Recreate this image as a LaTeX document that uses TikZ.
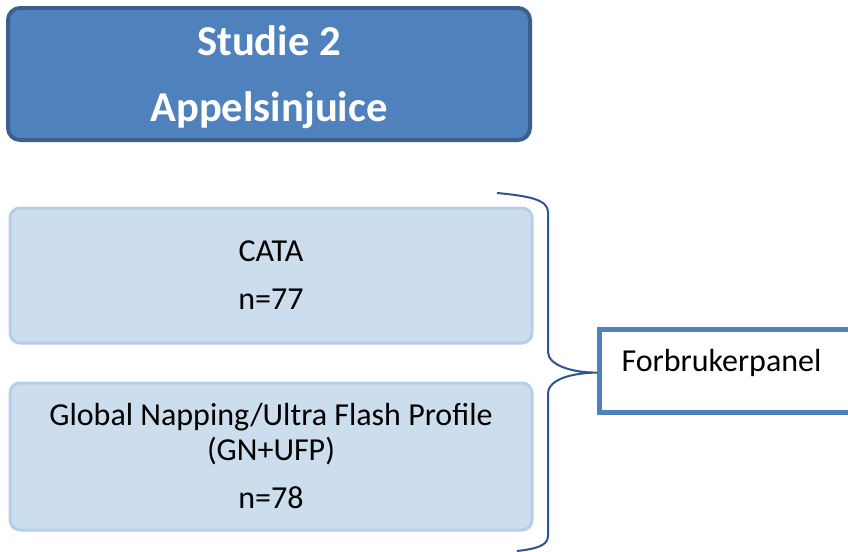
\documentclass[tikz,border=0pt]{standalone}
\usepackage{fontspec}
\setmainfont{Carlito}
\usepackage{xcolor}
\usetikzlibrary{calc}
\usetikzlibrary{positioning}

\definecolor{titlefill}{HTML}{4F81BD}
\definecolor{titleline}{HTML}{3B5F8E}
\definecolor{boxfill}{HTML}{CCDDED}
\definecolor{boxline}{HTML}{B8CDEA}
\definecolor{braceline}{HTML}{2D5592}

\begin{document}
\begin{tikzpicture}
    [x=0.5pt, y=-0.5pt,
     titlebox/.style={rectangle, rounded corners=6pt, draw=titleline, line width=2pt, fill=titlefill, text=white, font=\bfseries\fontsize{21.3}{25}\selectfont, align=center, minimum width=261pt, minimum height=66pt},
     methodbox/.style={rectangle, rounded corners=5pt, draw=boxline, line width=1.5pt, fill=boxfill, font=\fontsize{16}{17.5}\selectfont, align=center, minimum width=261pt},
     panelbox/.style={rectangle, draw=titlefill, line width=2.5pt, fill=white, font=\fontsize{16}{18}\selectfont, align=left, inner xsep=11pt, text width=114.5pt, minimum height=41.5pt},
     bracket/.style={draw=braceline, line width=1pt}]
    \clip (0,0) rectangle (848,552);
    \node(title)[titlebox] at (269,74) {\raisebox{0pt}[\dimexpr\height+3pt]{Studie 2}\\[8pt]Appelsinjuice};
    \node(cata)[methodbox, minimum height=67.5pt] at (271,275.5) {CATA\\[6.5pt]n=77};
    \node(gnufp)[methodbox, minimum height=73.5pt] at (271,456.5) {Global Napping/Ultra Flash Profile\\(GN+UFP)\\[6.5pt]n=78};
    \node(panel)[panelbox, anchor=west] at (597,370.5) {\raisebox{10pt}{Forbrukerpanel}};
    \coordinate (bracetop) at (497,193);
    \coordinate (bracebot) at (517,551);
    \draw[bracket] (bracetop) .. controls (530,196) and (548,200) .. (548,212)
        -- (548,352) .. controls (548,366) and (575,373) .. ($(panel.west)+(0,2)$)
        .. controls (575,373) and (548,378) .. (548,394)
        -- (548,536) .. controls (548,546) and (535,549) .. (bracebot);
\end{tikzpicture}
\end{document}
